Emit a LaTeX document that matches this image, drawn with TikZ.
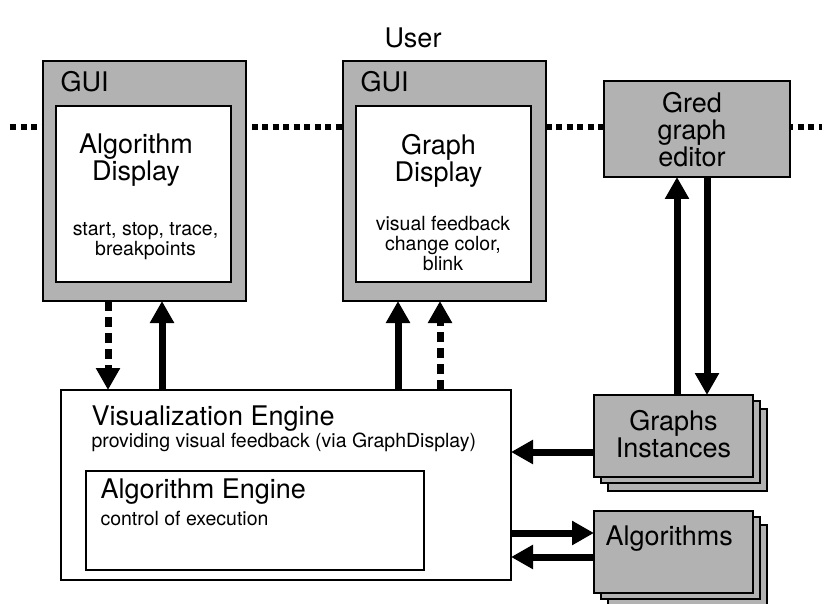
\documentclass[tikz,border=0pt]{standalone}
\usepackage{fontspec}
\setmainfont{TeX Gyre Heros}
\usetikzlibrary{arrows.meta,shadows,positioning}

\definecolor{boxgray}{gray}{0.70}
\newcommand{\bigtxt}{\fontsize{27}{27}\selectfont}
\newcommand{\smalltxt}{\fontsize{19.5}{20}\selectfont}

\tikzset{
  guibox/.style={draw, line width=1.5pt, fill=boxgray, minimum width=203pt, minimum height=240pt, inner sep=0pt, outer sep=0pt},
  dispbox/.style={draw, line width=2.5pt, fill=white, minimum width=175pt, minimum height=176pt, inner sep=0pt, outer sep=0pt},
  graybox/.style={draw, line width=1.2pt, fill=boxgray, inner sep=0pt, outer sep=0pt},
  engbox/.style={draw, line width=2pt, fill=white, inner sep=0pt, outer sep=0pt},
  stackbox/.style={graybox,
    copy shadow={shadow xshift=14pt, shadow yshift=-14pt, fill=boxgray, draw=black},
    copy shadow={shadow xshift=7pt, shadow yshift=-6pt, fill=boxgray, draw=black}},
  dotline/.style={line width=6.5pt, dash pattern=on 6pt off 4.5pt},
  arr/.style={line width=7pt, -{Triangle[length=22pt,width=23pt]}},
  dasharr/.style={arr, dash pattern=on 10pt off 6pt}
}

\begin{document}
\begin{tikzpicture}[x=1pt,y=-1pt]
\useasboundingbox (0,0) rectangle (825,604);

\node (user) at (413,38) [font=\bigtxt] {User};

% dotted line behind the boxes
\coordinate (dl) at (10,127);
\coordinate (dr) at (822,127);
\draw[dotline] (dl) -- (dr);

% GUI frames
\node (gui1) at (144.5,181) [guibox] {};
\node (ad) at (143.5,194) [dispbox] {};
\node (gui2) at (444.5,181) [guibox] {};
\node (gd) at (443.5,194) [dispbox] {};
\node (gui1lbl) at (57,92) [anchor=base west, font=\bigtxt] {GUI};
\node (gui2lbl) at (357,92) [anchor=base west, font=\bigtxt] {GUI};
\node (adtitle) at (136,130.5) [anchor=north, align=center, font=\bigtxt] {Algorithm\\Display};
\node (adtext) at (145.5,219) [anchor=north, align=center, font=\smalltxt] {start, stop, trace,\\breakpoints};
\node (gdtitle) at (438.5,130.5) [anchor=north, align=center, font=\bigtxt] {Graph\\Display};
\node (gdtext) at (443,213) [anchor=north, align=center, font=\smalltxt] {visual feedback\\change color,\\blink};

% editor
\node (gred) at (697,129) [graybox, minimum width=186pt, minimum height=96pt] {};
\node (gredlbl) at (692,130) [align=center, font=\bigtxt] {Gred\\graph\\editor};

% engines
\node (vis) at (286,485) [engbox, minimum width=450pt, minimum height=190pt] {};
\node (vistitle) at (88,425) [anchor=base west, font=\bigtxt] {Visualization Engine};
\node (vistext) at (88,447) [anchor=base west, font=\smalltxt] {providing visual feedback (via GraphDisplay)};
\node (ae) at (255,520.5) [engbox, minimum width=338pt, minimum height=99pt] {};
\node (aetitle) at (97,498) [anchor=base west, font=\bigtxt] {Algorithm Engine};
\node (aetext) at (97,525) [anchor=base west, font=\smalltxt] {control of execution};

% stacked boxes
\node (graphs) at (673.5,436) [stackbox, minimum width=159pt, minimum height=82pt] {};
\node (graphslbl) at (673.5,434) [align=center, font=\bigtxt] {Graphs\\Instances};
\node (algo) at (673.5,552) [stackbox, minimum width=159pt, minimum height=82pt] {};
\node (algolbl) at (602,545) [anchor=base west, font=\bigtxt] {Algorithms};

% arrows
\draw[dasharr] ([xshift=65pt]gui1.south west) -- ([xshift=47pt]vis.north west);
\draw[arr] ([xshift=101pt]vis.north west) -- ([xshift=119pt]gui1.south west);
\draw[arr] ([xshift=337pt]vis.north west) -- ([xshift=55pt]gui2.south west);
\draw[dasharr] ([xshift=379pt]vis.north west) -- ([xshift=97pt]gui2.south west);
\draw[arr] ([xshift=83pt]graphs.north west) -- ([xshift=73pt]gred.south west);
\draw[arr] ([xshift=103pt]gred.south west) -- ([xshift=113pt]graphs.north west);
\draw[arr] ([yshift=-57pt]graphs.north west) -- ([yshift=-62pt]vis.north east);
\draw[arr] ([yshift=-143pt]vis.north east) -- ([yshift=-22pt]algo.north west);
\draw[arr] ([yshift=-46pt]algo.north west) -- ([yshift=-167pt]vis.north east);
\end{tikzpicture}
\end{document}
